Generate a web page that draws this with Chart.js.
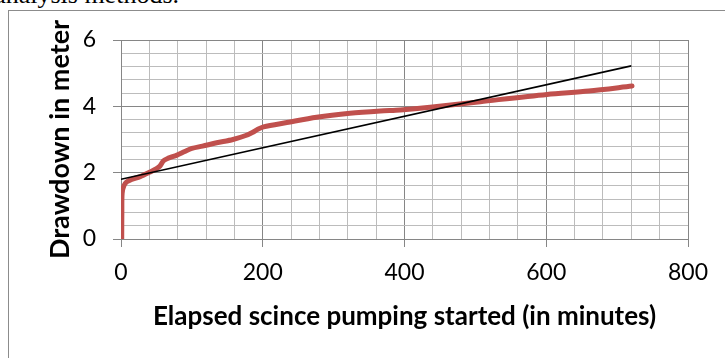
<!DOCTYPE html>
<html>
<head>
<meta charset="utf-8">
<script src="https://cdn.jsdelivr.net/npm/chart.js@4"></script>
<style>
  html, body { margin: 0; padding: 0; background: #fff; overflow: hidden; }
  #wrap { position: relative; width: 725px; height: 358px; overflow: hidden; }
  #caption {
    position: absolute; right: 546px; top: -18px;
    font-family: "Liberation Serif", serif; font-size: 26px; line-height: 26px;
    white-space: nowrap; color: #000;
  }
  #frame {
    position: absolute; left: 8px; top: 10px; width: 740px; height: 370px;
    border: 1px solid #8c8c8c; box-sizing: border-box;
  }
  #chartBox { position: absolute; left: 0; top: 0; width: 725px; height: 358px; }
</style>
</head>
<body>
<div id="wrap">
  <div id="caption">analysis methods.</div>
  <div id="frame"></div>
  <div id="chartBox"><canvas id="drawdownChart"></canvas></div>
</div>
<script>
const timeMin = [1, 1.2, 1.6, 4, 8, 15, 27, 41, 50, 55, 60, 66, 79, 90, 100, 115, 135, 158, 176, 186, 193, 201, 234, 276, 323, 366, 394, 436, 507, 601, 660, 721];
const drawdown = [0, 0.8, 1.38, 1.6, 1.72, 1.8, 1.88, 2.02, 2.12, 2.2, 2.36, 2.43, 2.53, 2.64, 2.73, 2.8, 2.9, 3.0, 3.12, 3.22, 3.31, 3.38, 3.51, 3.67, 3.79, 3.86, 3.89, 3.97, 4.14, 4.36, 4.46, 4.61];

// Straight fitted line (black)
const fitTime = [0, 720];
const fitDrawdown = [1.8, 5.22];

// Axes
const xMax = 800, xMajor = 200, xMinor = 40;
const yMax = 6, yMajor = 2, yMinor = 0.4;

const majorColor = '#868686';
const minorColor = '#bcbcbc';

function isMajor(value, step) {
    const r = value / step;
    return Math.abs(r - Math.round(r)) < 1e-6;
}

const observed = timeMin.map((t, i) => ({ x: t, y: drawdown[i] }));
const fitted = fitTime.map((t, i) => ({ x: t, y: fitDrawdown[i] }));

const font = 'Lato, "Open Sans", sans-serif';

new Chart(document.getElementById('drawdownChart').getContext('2d'), {
    type: 'scatter',
    data: {
        datasets: [{
            // first dataset is drawn on top
            data: fitted,
            showLine: true,
            borderColor: '#000000',
            borderWidth: 1.6,
            pointRadius: 0
        }, {
            data: observed,
            showLine: true,
            borderColor: '#C0504D',
            borderWidth: 5,
            borderCapStyle: 'round',
            borderJoinStyle: 'round',
            tension: 0.3,
            pointRadius: 0
        }]
    },
    options: {
        responsive: true,
        maintainAspectRatio: false,
        animation: false,
        layout: { padding: { top: 40, right: 37, left: 0, bottom: 0 } },
        plugins: { legend: { display: false }, tooltip: { enabled: false } },
        scales: {
            x: {
                type: 'linear',
                min: 0,
                max: xMax,
                afterFit: scale => { scale.height = 119; },
                ticks: {
                    stepSize: xMinor,
                    autoSkip: false,
                    maxRotation: 0,
                    padding: 12,
                    color: '#000',
                    font: { family: font, size: 23 },
                    callback: v => isMajor(v, xMajor) ? String(v) : ''
                },
                grid: {
                    color: ctx => isMajor(ctx.tick.value, xMajor) ? majorColor : minorColor,
                    tickColor: ctx => isMajor(ctx.tick.value, xMajor) ? majorColor : 'rgba(0,0,0,0)',
                    tickLength: 8,
                    lineWidth: 1
                },
                border: { color: majorColor },
                title: {
                    display: true,
                    text: 'Elapsed scince pumping started (in minutes)',
                    color: '#000',
                    font: { family: font, size: 26, weight: 'bold' },
                    padding: { top: 0, bottom: 26 }
                }
            },
            y: {
                type: 'linear',
                min: 0,
                max: yMax,
                afterFit: scale => { scale.width = 121; },
                ticks: {
                    stepSize: yMinor,
                    autoSkip: false,
                    padding: 17,
                    color: '#000',
                    font: { family: font, size: 23 },
                    callback: v => isMajor(v, yMajor) ? String(Math.round(v)) : ''
                },
                grid: {
                    color: ctx => isMajor(ctx.tick.value, yMajor) ? majorColor : minorColor,
                    tickColor: ctx => isMajor(ctx.tick.value, yMajor) ? majorColor : 'rgba(0,0,0,0)',
                    tickLength: 8,
                    lineWidth: 1
                },
                border: { color: majorColor },
                title: {
                    display: true,
                    text: 'Drawdown in meter',
                    color: '#000',
                    font: { family: font, size: 27, weight: 'bold' },
                    padding: { top: 44, bottom: 0 }
                }
            }
        }
    }
});
</script>
</body>
</html>
